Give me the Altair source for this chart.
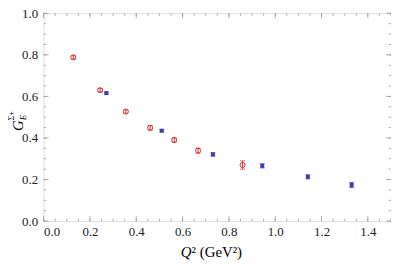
import altair as alt
import pandas as pd

# Red series (open circles)
red_q2 = [0.128, 0.244, 0.355, 0.460, 0.564, 0.667, 0.859]
red_g = [0.788, 0.630, 0.527, 0.449, 0.390, 0.339, 0.270]
red_err = [0.008, 0.008, 0.008, 0.011, 0.011, 0.012, 0.020]

# Blue series (filled squares)
blue_q2 = [0.271, 0.510, 0.731, 0.944, 1.141, 1.330]
blue_g = [0.616, 0.435, 0.321, 0.266, 0.213, 0.174]
blue_err = [0.005, 0.006, 0.008, 0.010, 0.010, 0.012]

x_major = [0.0, 0.2, 0.4, 0.6, 0.8, 1.0, 1.2, 1.4]
x_minor = [i * 0.05 for i in range(31)]
y_major = [0.0, 0.2, 0.4, 0.6, 0.8, 1.0]
y_minor = [i * 0.05 for i in range(21)]

W, H = 351, 210
RED = "#cc3333"
BLUE = "#3d3dab"
FRAME = "#9a9a9a"
FONT = "'Liberation Serif', 'DejaVu Serif', 'Times New Roman', serif"

red = pd.DataFrame({"q": red_q2, "g": red_g, "lo": [a - b for a, b in zip(red_g, red_err)],
                    "hi": [a + b for a, b in zip(red_g, red_err)]})
blue = pd.DataFrame({"q": blue_q2, "g": blue_g, "lo": [a - b for a, b in zip(blue_g, blue_err)],
                     "hi": [a + b for a, b in zip(blue_g, blue_err)]})

xs = alt.Scale(domain=[0, 1.5], nice=False, zero=False)
ys = alt.Scale(domain=[0, 1.0], nice=False, zero=False)

X_AX = alt.Axis(values=x_major, format=".1f", ticks=False, domain=False, grid=False,
                labelFont=FONT, labelFontSize=13, labelColor="#222", labelPadding=5, title=None)
Y_AX = alt.Axis(values=y_major, format=".1f", ticks=False, domain=False, grid=False,
                labelFont=FONT, labelFontSize=13, labelColor="#222", labelPadding=6, title=None)


def X(field):
    return alt.X(field, scale=xs, axis=X_AX, title=None)


def Y(field):
    return alt.Y(field, scale=ys, axis=Y_AX, title=None)


def xticks(vals, length, bottom=True):
    df = pd.DataFrame({"q": vals})
    if bottom:
        yy, yy2 = alt.value(H), alt.value(H - length)
    else:
        yy, yy2 = alt.value(0), alt.value(length)
    return alt.Chart(df).mark_rule(color=FRAME, strokeWidth=0.8).encode(x=X("q:Q"), y=yy, y2=yy2)


def yticks(vals, length, left=True):
    df = pd.DataFrame({"g": vals})
    if left:
        xx, xx2 = alt.value(0), alt.value(length)
    else:
        xx, xx2 = alt.value(W), alt.value(W - length)
    return alt.Chart(df).mark_rule(color=FRAME, strokeWidth=0.8).encode(y=Y("g:Q"), x=xx, x2=xx2)


ticks = [xticks(x_major, 5, True), xticks(x_minor, 2.5, True),
         xticks(x_major, 5, False), xticks(x_minor, 2.5, False),
         yticks(y_major, 5, True), yticks(y_minor, 2.5, True),
         yticks(y_major, 5, False), yticks(y_minor, 2.5, False)]


def series(df, color, shape, filled, size):
    bar = alt.Chart(df).mark_rule(color=color, strokeWidth=1).encode(
        x=X("q:Q"), y=Y("lo:Q"), y2="hi:Q")
    cap_lo = alt.Chart(df).mark_tick(color=color, orient="horizontal", size=5, thickness=1).encode(
        x=X("q:Q"), y=Y("lo:Q"))
    cap_hi = alt.Chart(df).mark_tick(color=color, orient="horizontal", size=5, thickness=1).encode(
        x=X("q:Q"), y=Y("hi:Q"))
    pts = alt.Chart(df).mark_point(shape=shape, filled=filled, color=color, size=size,
                                   strokeWidth=1, opacity=1).encode(x=X("q:Q"), y=Y("g:Q"))
    return [bar, cap_lo, cap_hi, pts]


lbl = pd.DataFrame({"t": [""]})
ytitle_G = alt.Chart(lbl).mark_text(text="G", font=FONT, fontStyle="italic", fontSize=15,
                                    angle=270, align="left", baseline="alphabetic").encode(
    x=alt.value(-21), y=alt.value(H / 2 + 14))
ytitle_E = alt.Chart(lbl).mark_text(text="E", font=FONT, fontStyle="italic", fontSize=9,
                                    angle=270, align="left", baseline="alphabetic").encode(
    x=alt.value(-18), y=alt.value(H / 2 + 3))
ytitle_S = alt.Chart(lbl).mark_text(text="Σ+", font=FONT, fontSize=8,
                                    angle=270, align="left", baseline="alphabetic").encode(
    x=alt.value(-30), y=alt.value(H / 2 + 3))

xtitle_Q = alt.Chart(lbl).mark_text(text="Q", font=FONT, fontStyle="italic", fontSize=15,
                                    align="right", baseline="alphabetic").encode(
    x=alt.value(W / 2 - 26), y=alt.value(H + 36))
xtitle_rest = alt.Chart(lbl).mark_text(text="² (GeV²)", font=FONT, fontSize=15,
                                       align="left", baseline="alphabetic").encode(
    x=alt.value(W / 2 - 26), y=alt.value(H + 36))

layers = ticks + series(red, RED, "circle", False, 26) + \
    series(blue, BLUE, "square", True, 16) + [ytitle_G, ytitle_E, ytitle_S, xtitle_Q, xtitle_rest]

chart = alt.layer(*layers).properties(
    width=W, height=H,
    autosize=alt.AutoSizeParams(type="none"),
    padding={"left": 36, "top": 4, "right": 0, "bottom": 42},
).configure_view(stroke=FRAME, strokeWidth=1).configure(background="white")

chart.save("out.html", embed_options={"renderer": "svg", "actions": False})
